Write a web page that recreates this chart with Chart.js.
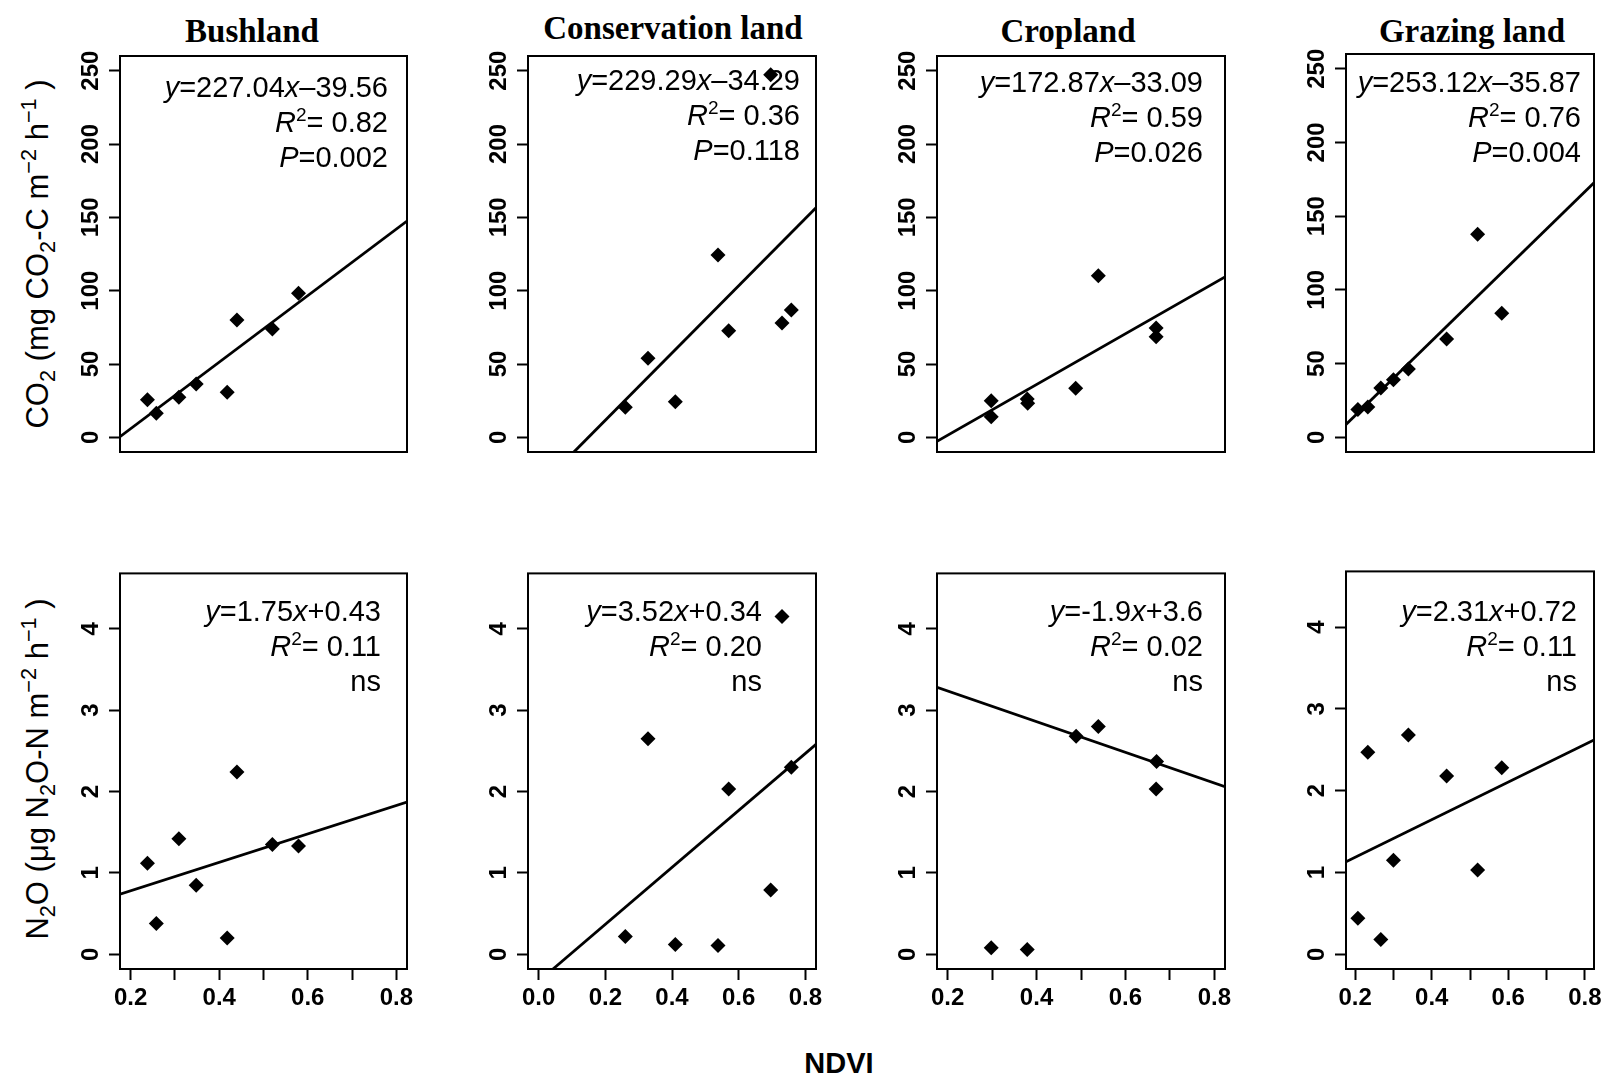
<!DOCTYPE html>
<html>
<head>
<meta charset="utf-8">
<script src="https://cdn.jsdelivr.net/npm/chart.js@4.4.0/dist/chart.umd.min.js"></script>
<style>
body { margin: 0; background: #fff; width: 1615px; height: 1083px; position: relative; overflow: hidden; }
canvas { position: absolute; }
.title { position: absolute; font: bold 33px "Liberation Serif", serif; line-height: 40px; transform: translateX(-50%); white-space: nowrap; color: #000; }
.xlab { position: absolute; font: bold 29px "Liberation Sans", sans-serif; line-height: 40px; transform: translateX(-50%); white-space: nowrap; color: #000; }
.ylab { position: absolute; font: 31px "Liberation Sans", sans-serif; line-height: 40px; white-space: nowrap; transform: translate(-50%, -50%) rotate(-90deg); color: #000; }
.ylab .lo { position: relative; top: 0.3em; font-size: 0.7em; }
.ylab .hi { position: relative; top: -0.55em; font-size: 0.7em; }
</style>
</head>
<body>
<div class="title" style="left:252px;top:11px">Bushland</div>
<div class="title" style="left:673px;top:8px">Conservation land</div>
<div class="title" style="left:1068px;top:11px">Cropland</div>
<div class="title" style="left:1472px;top:11px">Grazing land</div>
<div class="ylab" style="left:39px;top:254px">CO<span class="lo">2</span> (mg CO<span class="lo">2</span>-C m<span class="hi">&minus;2</span> h<span class="hi">&minus;1</span> )</div>
<div class="ylab" style="left:39px;top:769px">N<span class="lo">2</span>O (&mu;g N<span class="lo">2</span>O-N m<span class="hi">&minus;2</span> h<span class="hi">&minus;1</span> )</div>
<div class="xlab" style="left:839px;top:1043px">NDVI</div>
<script>
// NDVI and flux values
const bushNdvi = [0.238, 0.258, 0.309, 0.348, 0.418, 0.44, 0.52, 0.579];
const bushCo2 = [25.7, 16.4, 27.3, 36.4, 30.7, 80.0, 73.9, 98.2];
const bushN2o = [1.12, 0.38, 1.42, 0.85, 0.20, 2.24, 1.35, 1.33];

const consNdvi = [0.26, 0.328, 0.41, 0.538, 0.57, 0.696, 0.73, 0.758];
const consCo2 = [20.5, 53.9, 24.3, 124.3, 72.7, 247.2, 78.0, 86.8];
const consN2o = [0.22, 2.65, 0.12, 0.11, 2.03, 0.79, 4.15, 2.30];

const cropNdviCo2 = [0.298, 0.298, 0.379, 0.38, 0.488, 0.539, 0.669, 0.669];
const cropCo2 = [25.0, 14.1, 26.1, 23.2, 33.4, 110.2, 74.6, 68.6];
const cropNdviN2o = [0.298, 0.379, 0.489, 0.539, 0.669, 0.67];
const cropN2o = [0.08, 0.06, 2.68, 2.80, 2.03, 2.37];

const grazNdvi = [0.207, 0.233, 0.267, 0.30, 0.339, 0.439, 0.52, 0.583];
const grazCo2 = [18.8, 20.6, 33.4, 39.0, 46.3, 66.6, 137.7, 84.2];
const grazN2o = [0.44, 2.47, 0.18, 1.15, 2.68, 2.18, 1.03, 2.28];

// fitted lines, end points as drawn in the figure
const fitNdvi = [0.176, 0.824];
const bushCo2Fit = [0.4, 147.5];
const bushN2oFit = [0.74, 1.87];
const consCo2FitNdvi = [0.104, 0.832];
const consCo2Fit = [-10.4, 156.5];
const consN2oFitNdvi = [0.043, 0.832];
const consN2oFit = [-0.18, 2.58];
const cropCo2Fit = [-2.7, 109.4];
const cropN2oFit = [3.28, 2.06];
const grazCo2Fit = [8.7, 172.7];
const grazN2oFit = [1.13, 2.62];

// axis ticks
const co2Ticks = [0, 50, 100, 150, 200, 250];
const n2oTicks = [0, 1, 2, 3, 4];
const ndviTicks = [0.2, 0.3, 0.4, 0.5, 0.6, 0.7, 0.8];
const ndviTickLabels = ['0.2', '', '0.4', '', '0.6', '', '0.8'];
const consNdviTicks = [0, 0.2, 0.4, 0.6, 0.8];
const consNdviTickLabels = ['0.0', '0.2', '0.4', '0.6', '0.8'];

// regression text, runs of [text, style]
const bushCo2Note = [[['y','i'],['=227.04','n'],['x','i'],['\u201339.56','n']], [['R','i'],['2','s'],['= 0.82','n']], [['P','i'],['=0.002','n']]];
const consCo2Note = [[['y','i'],['=229.29','n'],['x','i'],['\u201334.29','n']], [['R','i'],['2','s'],['= 0.36','n']], [['P','i'],['=0.118','n']]];
const cropCo2Note = [[['y','i'],['=172.87','n'],['x','i'],['\u201333.09','n']], [['R','i'],['2','s'],['= 0.59','n']], [['P','i'],['=0.026','n']]];
const grazCo2Note = [[['y','i'],['=253.12','n'],['x','i'],['\u201335.87','n']], [['R','i'],['2','s'],['= 0.76','n']], [['P','i'],['=0.004','n']]];
const bushN2oNote = [[['y','i'],['=1.75','n'],['x','i'],['+0.43','n']], [['R','i'],['2','s'],['= 0.11','n']], [['ns','n']]];
const consN2oNote = [[['y','i'],['=3.52','n'],['x','i'],['+0.34','n']], [['R','i'],['2','s'],['= 0.20','n']], [['ns','n']]];
const cropN2oNote = [[['y','i'],['=-1.9','n'],['x','i'],['+3.6','n']], [['R','i'],['2','s'],['= 0.02','n']], [['ns','n']]];
const grazN2oNote = [[['y','i'],['=2.31','n'],['x','i'],['+0.72','n']], [['R','i'],['2','s'],['= 0.11','n']], [['ns','n']]];

// page layout
const colLeft = [120, 528, 937, 1346];
const colRight = [407, 816, 1225, 1594];
const rowTop = [[56, 56, 56, 54], [573, 573, 573, 571]];
const rowBottom = [452, 969];
const YW = 80, PADT = 25, PADR = 25, XH = 45, PADB = 18;

const FONT = 'Liberation Sans';

const framePlugin = {
    id: 'frame',
    afterDraw(chart) {
        const a = chart.chartArea;
        const ctx = chart.ctx;
        ctx.save();
        ctx.strokeStyle = '#000';
        ctx.lineWidth = 2;
        ctx.strokeRect(a.left, a.top, a.right - a.left, a.bottom - a.top);
        ctx.restore();
    }
};

const notesPlugin = {
    id: 'notes',
    afterDraw(chart, args, opts) {
        if (!opts.lines) return;
        const a = chart.chartArea;
        const ctx = chart.ctx;
        ctx.save();
        ctx.fillStyle = '#000';
        ctx.textBaseline = 'alphabetic';
        ctx.textAlign = 'left';
        opts.lines.forEach((runs, i) => {
            let x = a.right - opts.right;
            const y = a.top + opts.top + i * opts.gap;
            for (let k = runs.length - 1; k >= 0; k--) {
                const [txt, st] = runs[k];
                if (st === 'i') ctx.font = 'italic 29px "' + FONT + '"';
                else if (st === 's') ctx.font = '19px "' + FONT + '"';
                else ctx.font = '29px "' + FONT + '"';
                x -= ctx.measureText(txt).width;
                ctx.fillText(txt, x, st === 's' ? y - 11 : y);
            }
        });
        ctx.restore();
    }
};

const tickGrid = { display: true, drawOnChartArea: false, drawTicks: true, tickLength: 11, tickWidth: 2, tickColor: '#000' };
const tickFont = { family: FONT, size: 24, weight: 'bold' };

function makePanel(col, row, xs, ys, fitXs, fitYs, note, noteRight, noteTop) {
    const L = colLeft[col], R = colRight[col], T = rowTop[row][col], B = rowBottom[row];
    const bottomRow = row === 1;
    const cv = document.createElement('canvas');
    const w = (R - L) + YW + PADR;
    const h = (B - T) + PADT + (bottomRow ? XH : PADB);
    cv.width = w; cv.height = h;
    cv.style.left = (L - YW) + 'px';
    cv.style.top = (T - PADT) + 'px';
    document.body.appendChild(cv);

    const isCons = col === 1;
    const xVals = isCons ? consNdviTicks : ndviTicks;
    const xLabels = isCons ? consNdviTickLabels : ndviTickLabels;
    const yVals = bottomRow ? n2oTicks : co2Ticks;

    new Chart(cv, {
        type: 'scatter',
        data: {
            datasets: [
                {
                    data: fitXs.map((x, i) => ({ x, y: fitYs[i] })),
                    showLine: true, borderColor: '#000', borderWidth: 2.8,
                    pointRadius: 0, fill: false, tension: 0
                },
                {
                    data: xs.map((x, i) => ({ x, y: ys[i] })),
                    pointStyle: 'rectRot', pointRadius: 7.5,
                    backgroundColor: '#000', borderColor: '#000', borderWidth: 0
                }
            ]
        },
        plugins: [framePlugin, notesPlugin],
        options: {
            responsive: false, animation: false, devicePixelRatio: 1,
            layout: { padding: { top: PADT, right: PADR, left: 0, bottom: bottomRow ? 0 : PADB } },
            plugins: {
                legend: { display: false },
                tooltip: { enabled: false },
                notes: { lines: note, right: noteRight, top: noteTop, gap: 35 }
            },
            scales: {
                x: {
                    type: 'linear', position: 'bottom', display: bottomRow,
                    min: isCons ? -0.032 : 0.176, max: isCons ? 0.832 : 0.824,
                    afterBuildTicks: s => { s.ticks = xVals.map(v => ({ value: v })); },
                    afterFit: s => { if (bottomRow) s.height = XH; },
                    grid: tickGrid, border: { display: false },
                    ticks: { color: '#000', font: tickFont, autoSkip: false, minRotation: 0, maxRotation: 0, padding: 4,
                        callback: (v, i) => xLabels[i] }
                },
                y: {
                    type: 'linear', position: 'left',
                    min: bottomRow ? -0.18 : -10, max: bottomRow ? 4.68 : 260,
                    afterBuildTicks: s => { s.ticks = yVals.map(v => ({ value: v })); },
                    afterFit: s => { s.width = YW; },
                    grid: tickGrid, border: { display: false },
                    ticks: { color: '#000', font: tickFont, minRotation: 90, maxRotation: 90, crossAlign: 'center',
                        padding: bottomRow ? 11 : -2, callback: v => String(v) }
                }
            }
        }
    });
}

makePanel(0, 0, bushNdvi, bushCo2, fitNdvi, bushCo2Fit, bushCo2Note, 19, 41);
makePanel(1, 0, consNdvi, consCo2, consCo2FitNdvi, consCo2Fit, consCo2Note, 16, 34);
makePanel(2, 0, cropNdviCo2, cropCo2, fitNdvi, cropCo2Fit, cropCo2Note, 22, 36);
makePanel(3, 0, grazNdvi, grazCo2, fitNdvi, grazCo2Fit, grazCo2Note, 13, 38);
makePanel(0, 1, bushNdvi, bushN2o, fitNdvi, bushN2oFit, bushN2oNote, 26, 48);
makePanel(1, 1, consNdvi, consN2o, consN2oFitNdvi, consN2oFit, consN2oNote, 54, 48);
makePanel(2, 1, cropNdviN2o, cropN2o, fitNdvi, cropN2oFit, cropN2oNote, 22, 48);
makePanel(3, 1, grazNdvi, grazN2o, fitNdvi, grazN2oFit, grazN2oNote, 17, 50);
</script>
</body>
</html>
